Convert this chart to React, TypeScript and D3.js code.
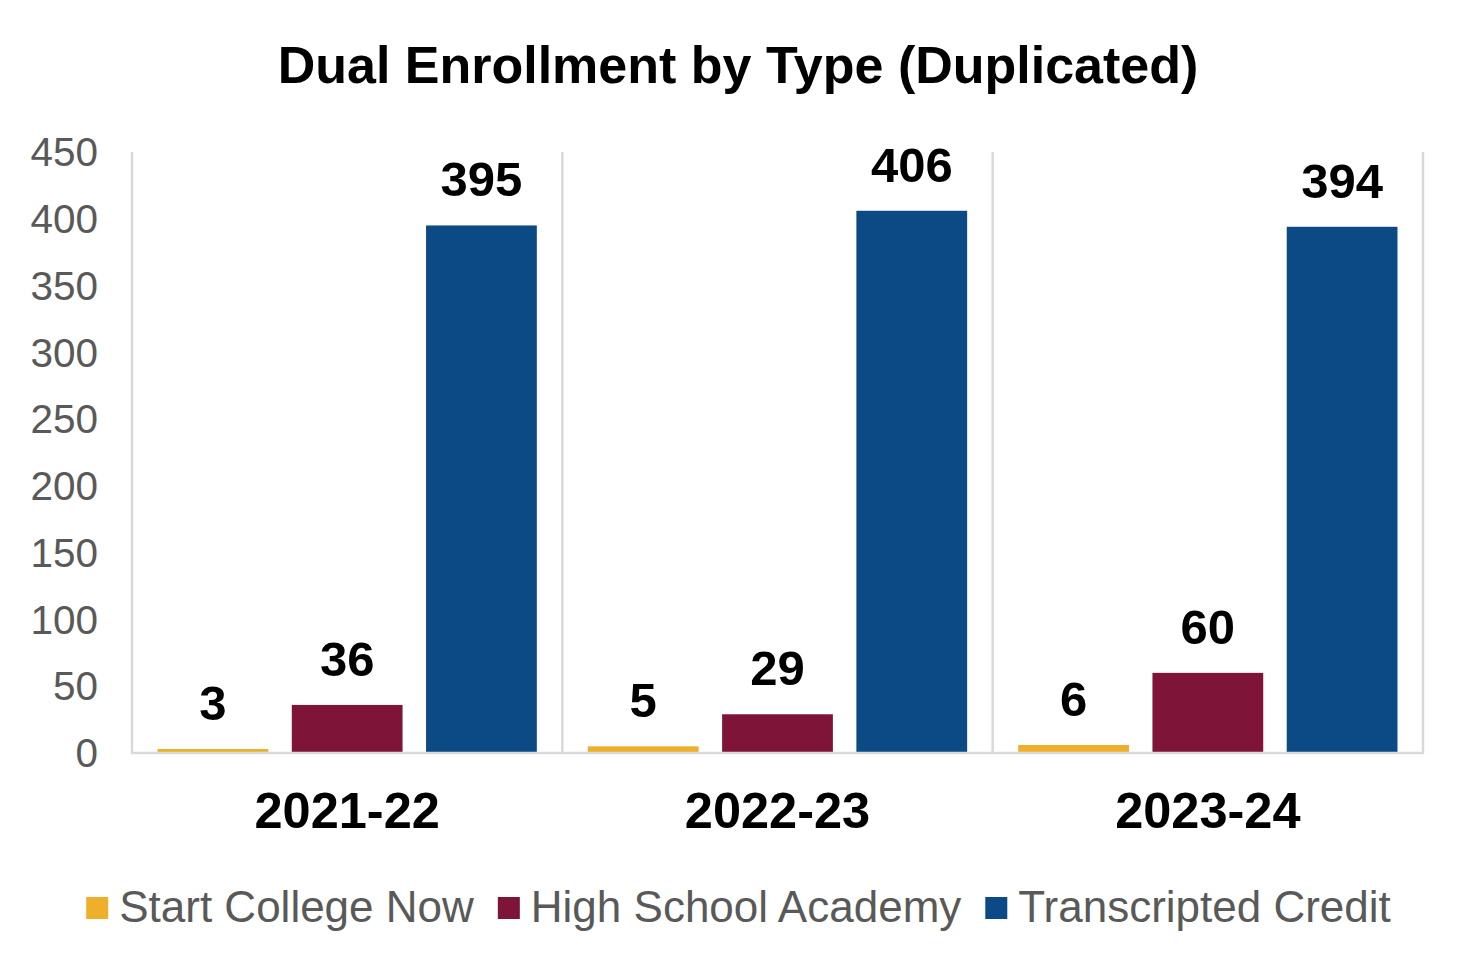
import React, { useEffect, useRef } from "react";
import * as d3 from "d3";

const title = "Dual Enrollment by Type (Duplicated)";
const categories = ["2021-22", "2022-23", "2023-24"];
const seriesNames = ["Start College Now", "High School Academy", "Transcripted Credit"];
const seriesColors = ["#EEB02A", "#7E1538", "#0B4A84"];
const startCollegeNow = [3, 5, 6];
const highSchoolAcademy = [36, 29, 60];
const transcriptedCredit = [395, 406, 394];
const yTicks = [0, 50, 100, 150, 200, 250, 300, 350, 400, 450];

const W = 1475;
const H = 973;
const FONT = "'Liberation Sans', Arial, sans-serif";

export default function App() {
  const ref = useRef<SVGSVGElement | null>(null);

  useEffect(() => {
    const svg = d3.select(ref.current);
    svg.selectAll("*").remove();

    const values = [startCollegeNow, highSchoolAcademy, transcriptedCredit];
    const left = 132, right = 1423, top = 152, bottom = 753;

    const x = d3.scaleBand<string>().domain(categories).range([left, right]).paddingInner(0).paddingOuter(0);
    const xs = d3.scaleBand<string>().domain(seriesNames).range([0, x.bandwidth()]).paddingInner(0.175).paddingOuter(0.19);
    const y = d3.scaleLinear().domain([0, 450]).range([bottom, top]);

    // title
    svg.append("text")
      .attr("x", 738).attr("y", 83)
      .attr("text-anchor", "middle")
      .attr("font-family", FONT).attr("font-weight", "bold").attr("font-size", 52)
      .attr("fill", "#000")
      .text(title);

    // y tick labels
    svg.append("g").selectAll("text").data(yTicks).join("text")
      .attr("x", 98).attr("y", (d) => y(d))
      .attr("dy", "0.35em")
      .attr("text-anchor", "end")
      .attr("font-family", FONT).attr("font-size", 40.5)
      .attr("fill", "#595959")
      .text((d) => String(d));

    // vertical separators
    const seps = [left, ...categories.map((c) => (x(c) as number) + x.bandwidth())];
    svg.append("g").selectAll("line").data(seps).join("line")
      .attr("x1", (d) => d).attr("x2", (d) => d)
      .attr("y1", top).attr("y2", bottom)
      .attr("stroke", "#D9D9D9").attr("stroke-width", 2.5);

    // bars
    seriesNames.forEach((s, si) => {
      const g = svg.append("g");
      g.selectAll("rect").data(categories).join("rect")
        .attr("x", (c) => (x(c) as number) + (xs(s) as number))
        .attr("width", xs.bandwidth())
        .attr("y", (c, i) => y(values[si][i]))
        .attr("height", (c, i) => bottom - y(values[si][i]))
        .attr("fill", seriesColors[si]);
      g.selectAll("text").data(categories).join("text")
        .attr("x", (c) => (x(c) as number) + (xs(s) as number) + xs.bandwidth() / 2)
        .attr("y", (c, i) => y(values[si][i]) - 29)
        .attr("text-anchor", "middle")
        .attr("font-family", FONT).attr("font-weight", "bold").attr("font-size", 49)
        .attr("fill", "#000")
        .text((c, i) => String(values[si][i]));
    });

    // baseline axis
    svg.append("line")
      .attr("x1", left - 1).attr("x2", right + 1)
      .attr("y1", bottom).attr("y2", bottom)
      .attr("stroke", "#D9D9D9").attr("stroke-width", 2.5);

    // category labels
    svg.append("g").selectAll("text").data(categories).join("text")
      .attr("x", (c) => (x(c) as number) + x.bandwidth() / 2)
      .attr("y", 828)
      .attr("text-anchor", "middle")
      .attr("font-family", FONT).attr("font-weight", "bold").attr("font-size", 50.5)
      .attr("fill", "#000")
      .text((c) => c);

    // legend
    const lg = svg.append("g");
    const items = seriesNames.map((s, i) => {
      const g = lg.append("g");
      g.append("rect").attr("x", 0).attr("y", -25).attr("width", 22).attr("height", 22).attr("fill", seriesColors[i]);
      const t = g.append("text").attr("x", 33).attr("y", 0)
        .attr("font-family", FONT).attr("font-size", 44).attr("fill", "#595959").text(s);
      const w = 33 + (t.node() as SVGTextElement).getComputedTextLength();
      return { g, w };
    });
    const gap = 24;
    const total = d3.sum(items, (d) => d.w) + gap * (items.length - 1);
    let cx = (W - total) / 2 + 1;
    items.forEach((it) => {
      it.g.attr("transform", `translate(${cx},922)`);
      cx += it.w + gap;
    });
  }, []);

  return (
    <svg
      ref={ref}
      width={W}
      height={H}
      style={{ position: "absolute", left: 0, top: 0, background: "#fff", display: "block" }}
    />
  );
}
